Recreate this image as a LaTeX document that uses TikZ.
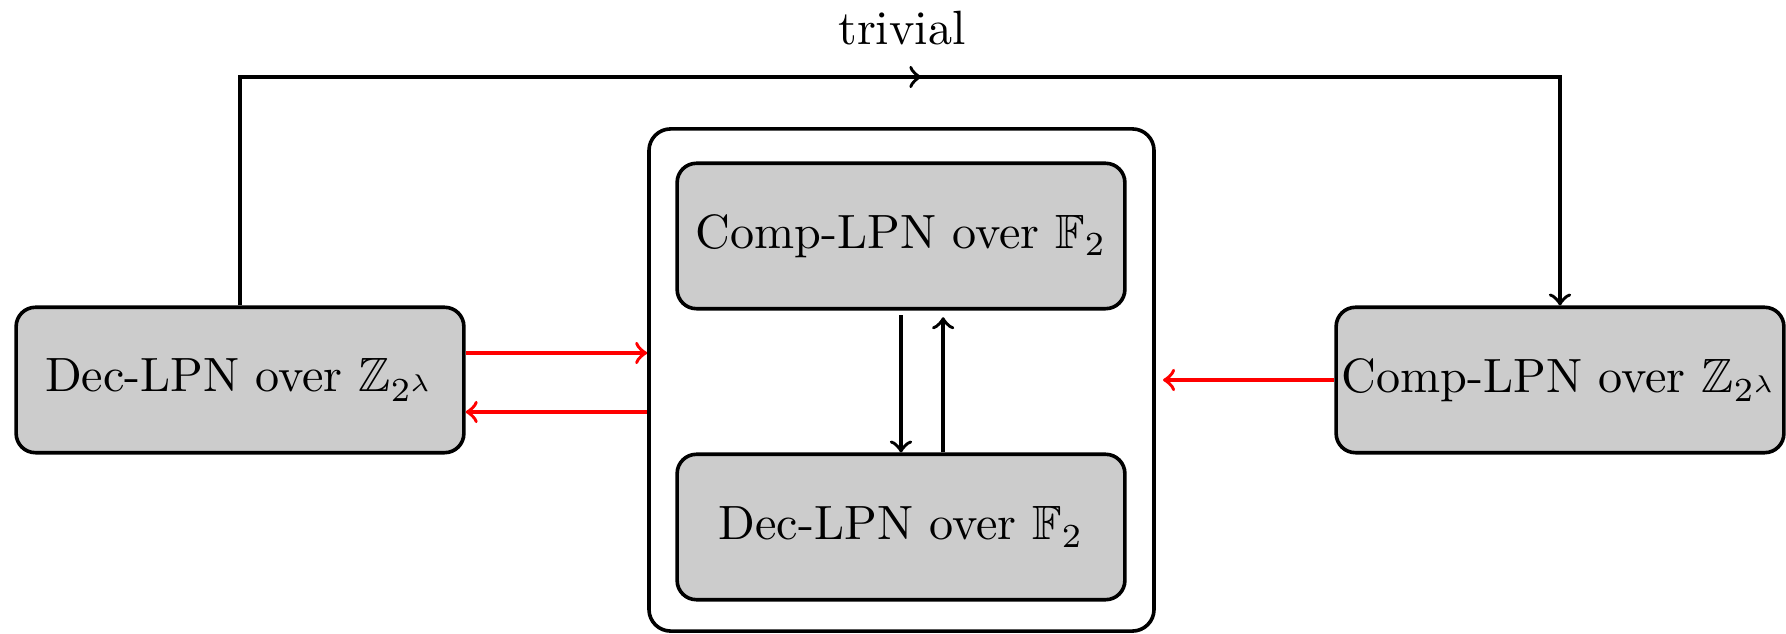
\documentclass[tikz,border=0pt]{standalone}
\usepackage{amssymb}
\usetikzlibrary{decorations.markings}
\tikzset{
  probbox/.style={draw, line width=0.75pt, rounded corners=4pt, fill=black!20,
    minimum width=93pt, minimum height=30.2pt, inner sep=0pt},
  groupbox/.style={draw, line width=0.75pt, rounded corners=4.5pt,
    minimum width=104.9pt, minimum height=104.3pt, inner sep=0pt},
  conn/.style={draw, line width=0.75pt, ->},
  redconn/.style={draw=red, line width=0.75pt, ->},
  midarrow/.style={postaction=decorate,
    decoration={markings, mark=at position #1 with {\arrow{>}}}},
}
\begin{document}
\begin{tikzpicture}[x=0.2077pt, y=-0.2077pt]
\useasboundingbox (0,0) rectangle (1786,634);

% group holding the two problems over F_2
\node[groupbox] (grp) at (901.5,380) {};
\node[probbox] (cf) at (901,236) {Comp-LPN over $\mathbb{F}_2$};
\node[probbox] (df) at (901,527) {Dec-LPN over $\mathbb{F}_2$};

% problems over Z_{2^lambda}
\node[probbox] (dz) at (240,380) {Dec-LPN over $\mathbb{Z}_{2^\lambda}$};
\node[probbox] (cz) at (1560,380) {Comp-LPN over $\mathbb{Z}_{2^\lambda}$};

% trivial reduction across the top
\coordinate (top) at (902,77);
\node (triv) at (902,28) {trivial};
\draw[conn, midarrow=0.512] (dz.north) |- (top) -| (cz.north);

% reductions inside the group
\draw[conn] ([yshift=-1pt]cf.south) -- (df.north);
\draw[conn, shorten >=1.4pt] ([xshift=8.75pt]df.north) -- ([xshift=8.75pt]cf.south);

% reductions between the group and the outer problems
\draw[redconn] (dz.east |- 0,353) -- (grp.west |- 0,353);
\draw[redconn] (grp.west |- 0,412) -- (dz.east |- 0,412);
\draw[redconn, shorten >=1.5pt] (cz.west) -- (grp.east);
\end{tikzpicture}
\end{document}
